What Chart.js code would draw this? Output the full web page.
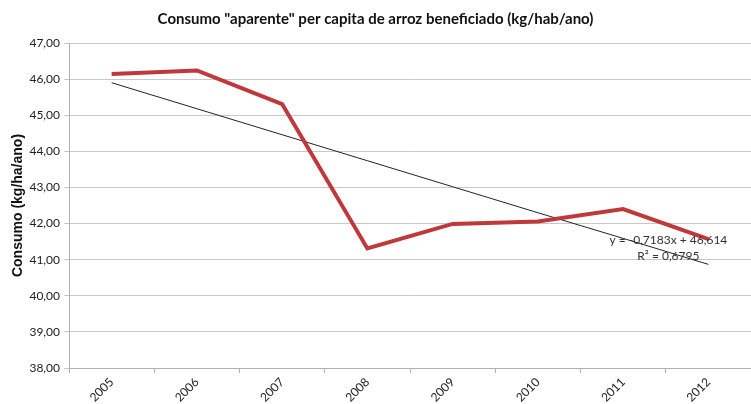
<!DOCTYPE html>
<html>
<head>
<meta charset="utf-8">
<script src="https://cdn.jsdelivr.net/npm/chart.js@4"></script>
<style>
  html, body { margin: 0; padding: 0; background: #fff; }
  #wrap { width: 751px; height: 404px; position: relative; }
</style>
</head>
<body>
<div id="wrap"><canvas id="chart"></canvas></div>
<script>
const years = ['2005', '2006', '2007', '2008', '2009', '2010', '2011', '2012']
// consumo aparente, kg/hab/ano
const consumo = [46.14, 46.24, 45.31, 41.31, 41.99, 42.06, 42.40, 41.57]
// linear trend as printed on the chart: y = -0,7183x + 46,614
const tendencia = [45.90, 45.18, 44.46, 43.74, 43.02, 42.30, 41.59, 40.87]
const eqLines = ['y = -0,7183x + 46,614', 'R² = 0,6795']

const fmt = (v) => v.toFixed(2).replace('.', ',')

// draws the trendline equation near the last category
const eqLabel = {
    id: 'eqLabel',
    afterDatasetsDraw (chart) {
        const ctx = chart.ctx
        const x = chart.scales.x.getPixelForValue(7) - 40
        const y = chart.scales.y.getPixelForValue(41.55)
        ctx.save()
        ctx.font = '12px Lato'
        ctx.fillStyle = '#333'
        ctx.textAlign = 'center'
        ctx.textBaseline = 'middle'
        eqLines.forEach((t, i) => ctx.fillText(t, x, y + i * 16))
        ctx.restore()
    }
}

new Chart(document.getElementById('chart'), {
    type: 'line',
    data: {
        labels: years,
        datasets: [
            {
                data: consumo,
                borderColor: '#c0393a',
                borderWidth: 4,
                pointRadius: 0,
                tension: 0
            },
            {
                data: tendencia,
                borderColor: '#222',
                borderWidth: 1,
                pointRadius: 0,
                tension: 0
            }
        ]
    },
    options: {
        responsive: true,
        maintainAspectRatio: false,
        animation: false,
        layout: { padding: 0 },
        plugins: {
            legend: { display: false },
            tooltip: { enabled: false },
            title: {
                display: true,
                text: 'Consumo "aparente" per capita de arroz beneficiado (kg/hab/ano)',
                color: '#111',
                font: { family: 'Lato', size: 15, weight: 'bold' },
                padding: { top: 10, bottom: 15 }
            }
        },
        scales: {
            x: {
                offset: true,
                grid: {
                    offset: true,
                    drawOnChartArea: false,
                    drawTicks: true,
                    tickLength: 5,
                    color: '#b0b0b0'
                },
                border: { color: '#b0b0b0' },
                ticks: {
                    color: '#222',
                    font: { family: 'Lato', size: 12 },
                    maxRotation: 45,
                    minRotation: 45,
                    padding: 2
                },
                afterFit: (s) => { s.height = 36 }
            },
            y: {
                min: 38,
                max: 47,
                ticks: {
                    stepSize: 1,
                    color: '#222',
                    font: { family: 'Lato', size: 12 },
                    padding: 4,
                    callback: (v) => fmt(v)
                },
                grid: { color: '#c8c8c8', tickLength: 5 },
                border: { color: '#b0b0b0' },
                title: {
                    display: true,
                    text: 'Consumo (kg/ha/ano)',
                    color: '#111',
                    font: { family: 'Liberation Sans', size: 14, weight: 'bold' },
                    padding: { top: 10, bottom: 0 }
                },
                afterFit: (s) => { s.width = 69 }
            }
        }
    },
    plugins: [eqLabel]
})
</script>
</body>
</html>
